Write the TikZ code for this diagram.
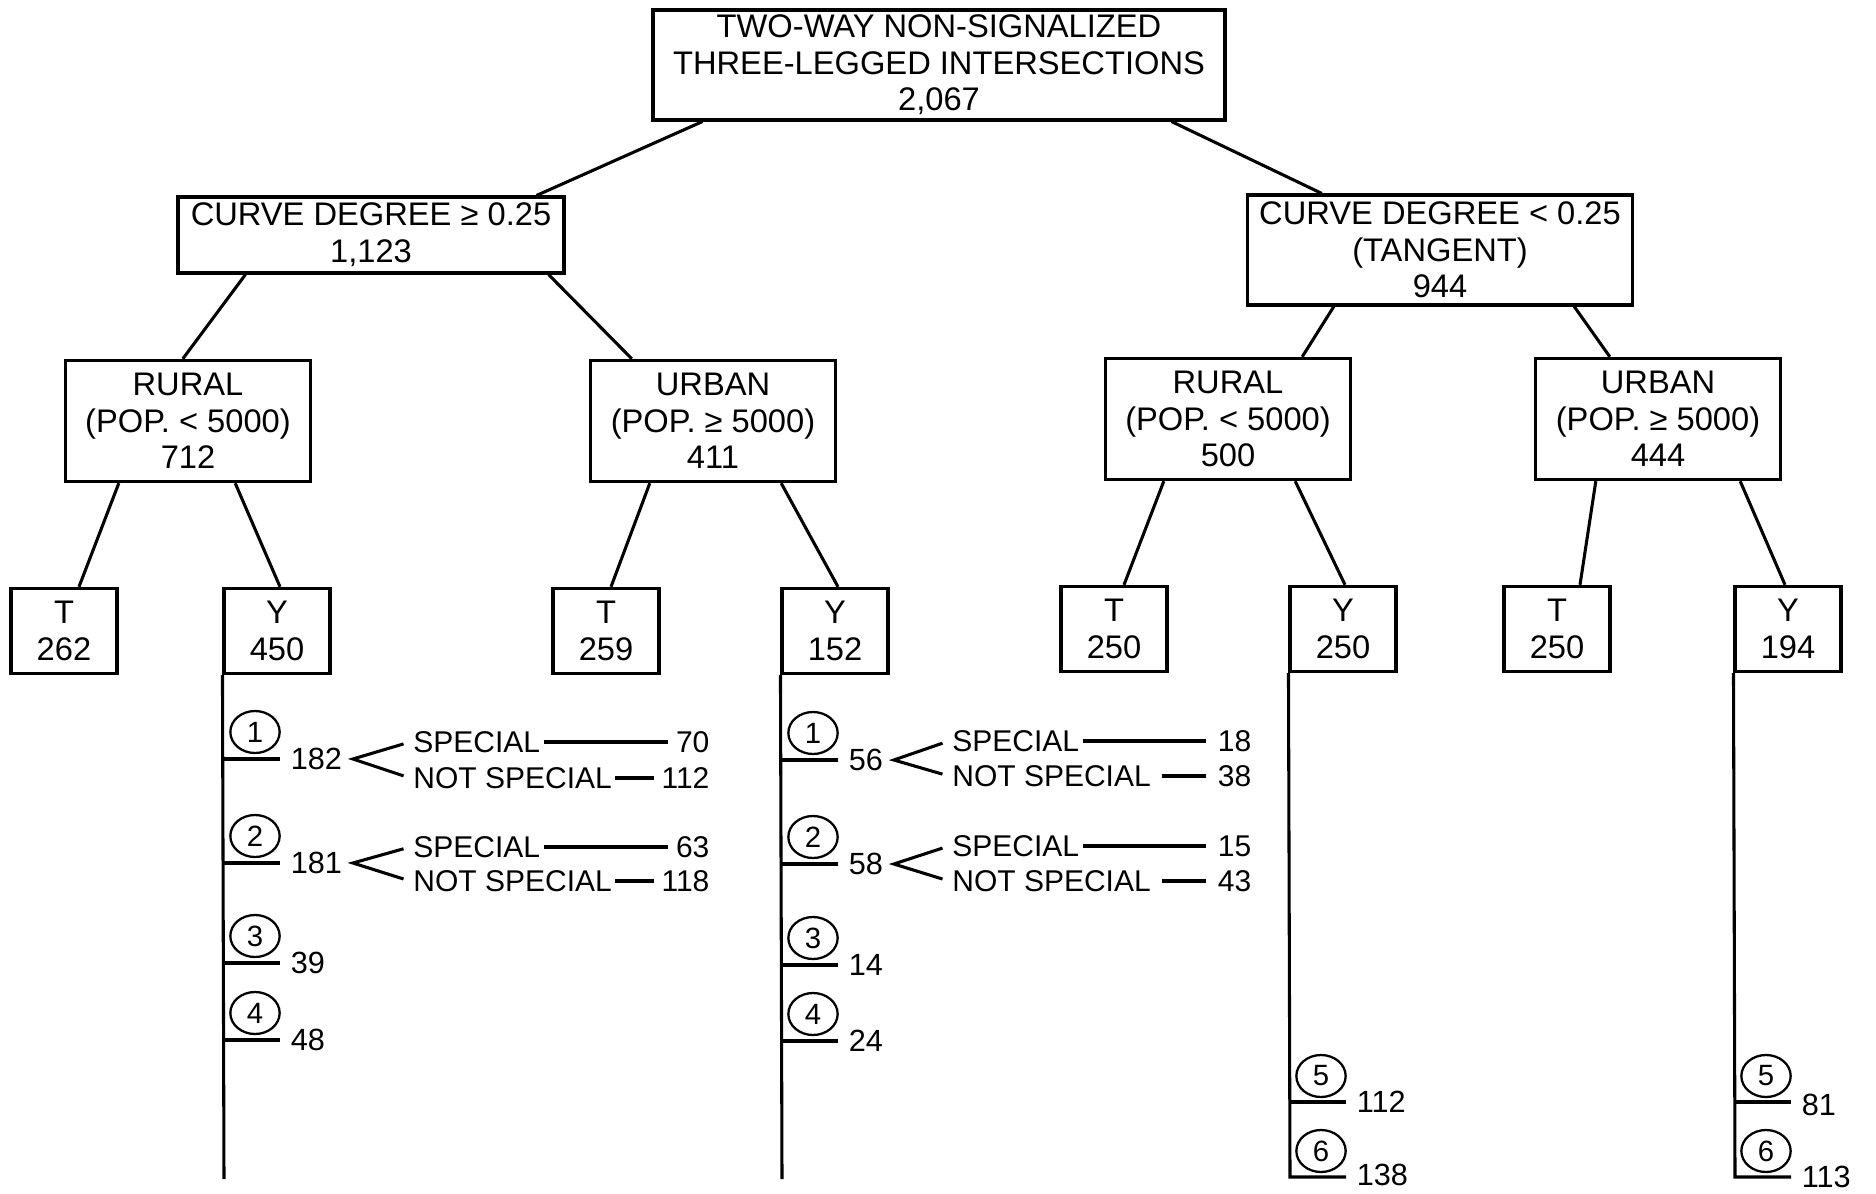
\documentclass[tikz,border=0pt]{standalone}
\usepackage{fontspec}
\setmainfont{Liberation Sans}
\usepackage{tikz}
\usetikzlibrary{calc,shapes.geometric}
\tikzset{every picture/.style={line width=2.3pt}}

\begin{document}
\begin{tikzpicture}[x=0.75pt,y=0.75pt,yscale=-1,xscale=1,
	box/.style={draw, rectangle, inner sep=0pt, align=center, font=\fontsize{24.5}{27.5}\selectfont},
	midbox/.style={box, minimum width=184pt, minimum height=91pt},
	leaf/.style={box, minimum width=79.5pt, minimum height=64pt},
	tag/.style={draw, ellipse, inner sep=0pt, minimum width=37pt, minimum height=31.5pt, line width=1.7pt, font=\fontsize{22}{22}\selectfont},
	num/.style={anchor=west, inner xsep=7pt, inner ysep=0pt, text height=16pt, text depth=0pt, font=\fontsize{23}{23}\selectfont},
	lbl/.style={anchor=west, inner xsep=1.5pt, inner ysep=0pt, text height=16pt, text depth=0pt, font=\fontsize{22.5}{22.5}\selectfont},
	val/.style={lbl, anchor=east},
	fork/.style={shorten <=5pt, shorten >=5pt},
	lead/.style={shorten >=3pt}]
	\useasboundingbox (0,0) rectangle (1876,1194);
	
	%Shape: Rectangle [root]
	\node[box, minimum width=429pt, minimum height=82.5pt] (root) at (939,65) {TWO-WAY NON-SIGNALIZED\\THREE-LEGGED INTERSECTIONS\\2,067};
	%Shape: Rectangle [curve]
	\node[box, minimum width=289.5pt, minimum height=57pt] (cg1) at (371,235) {CURVE DEGREE ≥ 0.25\\1,123};
	\node[box, minimum width=289pt, minimum height=82.5pt] (cg2) at (1440,250) {CURVE DEGREE < 0.25\\(TANGENT)\\944};
	%Shape: Rectangle [area]
	\node[midbox] (r1) at (188,421) {RURAL\\(POP. < 5000)\\712};
	\node[midbox] (u1) at (713,421) {URBAN\\(POP. ≥ 5000)\\411};
	\node[midbox] (r2) at (1228,419) {RURAL\\(POP. < 5000)\\500};
	\node[midbox] (u2) at (1658,419) {URBAN\\(POP. ≥ 5000)\\444};
	%Shape: Rectangle [leg type]
	\node[leaf] (t1) at (64,631) {T\\262};
	\node[leaf] (y1) at (277,631) {Y\\450};
	\node[leaf] (t2) at (606,631) {T\\259};
	\node[leaf] (y2) at (835,631) {Y\\152};
	\node[leaf] (t3) at (1114,629) {T\\250};
	\node[leaf] (y3) at (1343,629) {Y\\250};
	\node[leaf] (t4) at (1557,629) {T\\250};
	\node[leaf] (y4) at (1788,629) {Y\\194};
	
	%Straight Lines [tree]
	\draw ($(root.south west)+(51,0)$) -- ($(cg1.north east)+(-29,0)$);
	\draw ($(root.south east)+(-55,0)$) -- ($(cg2.north west)+(76,0)$);
	\draw ($(cg1.south west)+(69,0)$) -- ($(r1.north west)+(119,0)$);
	\draw ($(cg1.south east)+(-17,0)$) -- ($(u1.north west)+(43,0)$);
	\draw ($(cg2.south west)+(88,0)$) -- ($(r2.north east)+(-50,0)$);
	\draw ($(cg2.south east)+(-60,0)$) -- ($(u2.north west)+(76,0)$);
	\draw ($(r1.south west)+(55,0)$) -- ($(t1.north)+(15,0)$);
	\draw ($(r1.south east)+(-77,0)$) -- ($(y1.north)+(3,0)$);
	\draw ($(u1.south west)+(61,0)$) -- ($(t2.north)+(5,0)$);
	\draw ($(u1.south east)+(-56,0)$) -- ($(y2.north)+(3,0)$);
	\draw ($(r2.south west)+(60,0)$) -- ($(t3.north)+(10,0)$);
	\draw ($(r2.south east)+(-57,0)$) -- ($(y3.north)+(2,0)$);
	\draw ($(u2.south west)+(62,0)$) -- ($(t4.north)+(23,0)$);
	\draw ($(u2.south east)+(-42,0)$) -- ($(y4.north)+(-3,0)$);
	
	%Straight Lines [Y 450]
	\coordinate (j11) at (224,759);
	\coordinate (j12) at (224,863);
	\coordinate (j13) at (224,963);
	\coordinate (j14) at (224,1040);
	\coordinate (e1) at (224,1179);
	\draw (y1.south west) -- (e1);
	\node[tag] (c11) at ($(j11)+(31,-27)$) {1};
	\node[tag] (c12) at ($(j12)+(31,-27)$) {2};
	\node[tag] (c13) at ($(j13)+(31,-27)$) {3};
	\node[tag] (c14) at ($(j14)+(31,-27)$) {4};
	\node[num] (n11) at ($(j11)+(56,0)$) {182};
	\node[num] (n12) at ($(j12)+(56,0)$) {181};
	\node[num] (n13) at ($(j13)+(56,0)$) {39};
	\node[num] (n14) at ($(j14)+(56,0)$) {48};
	\draw (j11) -- (n11.west);
	\draw (j12) -- (n12.west);
	\draw (j13) -- (n13.west);
	\draw (j14) -- (n14.west);
	\node[lbl] (sp11) at ($(n11.east)+(57,-17)$) {SPECIAL};
	\node[lbl] (ns11) at ($(n11.east)+(57,19)$) {NOT SPECIAL};
	\node[val] (v11) at ($(sp11.west)+(303,0)$) {70};
	\node[val] (w11) at ($(ns11.west)+(303,0)$) {112};
	\draw[fork] (sp11.west) -- (n11.east) -- (ns11.west);
	\draw[lead] (sp11.east) -- (v11.west);
	\draw[lead] (ns11.east) -- (w11.west);
	\node[lbl] (sp12) at ($(n12.east)+(57,-16)$) {SPECIAL};
	\node[lbl] (ns12) at ($(n12.east)+(57,18)$) {NOT SPECIAL};
	\node[val] (v12) at ($(sp12.west)+(303,0)$) {63};
	\node[val] (w12) at ($(ns12.west)+(303,0)$) {118};
	\draw[fork] (sp12.west) -- (n12.east) -- (ns12.west);
	\draw[lead] (sp12.east) -- (v12.west);
	\draw[lead] (ns12.east) -- (w12.west);
	
	%Straight Lines [Y 152]
	\coordinate (j21) at (782,760);
	\coordinate (j22) at (782,864);
	\coordinate (j23) at (782,965);
	\coordinate (j24) at (782,1041);
	\coordinate (e2) at (782,1179);
	\draw (y2.south west) -- (e2);
	\node[tag] (c21) at ($(j21)+(31,-27)$) {1};
	\node[tag] (c22) at ($(j22)+(31,-27)$) {2};
	\node[tag] (c23) at ($(j23)+(31,-27)$) {3};
	\node[tag] (c24) at ($(j24)+(31,-27)$) {4};
	\node[num] (n21) at ($(j21)+(56,0)$) {56};
	\node[num] (n22) at ($(j22)+(56,0)$) {58};
	\node[num] (n23) at ($(j23)+(56,0)$) {14};
	\node[num] (n24) at ($(j24)+(56,0)$) {24};
	\draw (j21) -- (n21.west);
	\draw (j22) -- (n22.west);
	\draw (j23) -- (n23.west);
	\draw (j24) -- (n24.west);
	\node[lbl] (sp21) at ($(n21.east)+(55,-19)$) {SPECIAL};
	\node[lbl] (ns21) at ($(n21.east)+(55,16)$) {NOT SPECIAL};
	\node[val] (v21) at ($(sp21.west)+(306,0)$) {18};
	\node[val] (w21) at ($(ns21.west)+(306,0)$) {38};
	\draw[fork] (sp21.west) -- (n21.east) -- (ns21.west);
	\draw[lead, shorten >=6pt] (sp21.east) -- (v21.west);
	\draw[lead, shorten <=6pt, shorten >=6pt] (ns21.east) -- (w21.west);
	\node[lbl] (sp22) at ($(n22.east)+(55,-18)$) {SPECIAL};
	\node[lbl] (ns22) at ($(n22.east)+(55,17)$) {NOT SPECIAL};
	\node[val] (v22) at ($(sp22.west)+(306,0)$) {15};
	\node[val] (w22) at ($(ns22.west)+(306,0)$) {43};
	\draw[fork] (sp22.west) -- (n22.east) -- (ns22.west);
	\draw[lead, shorten >=6pt] (sp22.east) -- (v22.west);
	\draw[lead, shorten <=6pt, shorten >=6pt] (ns22.east) -- (w22.west);
	
	%Straight Lines [Y 250]
	\coordinate (j35) at (1290,1102);
	\coordinate (j36) at (1290,1177);
	\node[tag] (c35) at ($(j35)+(31,-26)$) {5};
	\node[tag] (c36) at ($(j36)+(31,-26)$) {6};
	\node[num] (n35) at ($(j35)+(56,0)$) {112};
	\node[num] (n36) at ($(j36)+(56,-2)$) {138};
	\draw (y3.south west) -- (j36) -- (n36.west |- j36);
	\draw (j35) -- (n35.west);
	
	%Straight Lines [Y 194]
	\coordinate (j45) at (1735,1102);
	\coordinate (j46) at (1735,1177);
	\node[tag] (c45) at ($(j45)+(31,-26)$) {5};
	\node[tag] (c46) at ($(j46)+(31,-26)$) {6};
	\node[num] (n45) at ($(j45)+(56,3)$) {81};
	\node[num] (n46) at ($(j46)+(56,0)$) {113};
	\draw (y4.south west) -- (j46) -- (n46.west |- j46);
	\draw (j45) -- (n45.west |- j45);
	
\end{tikzpicture}
\end{document}
